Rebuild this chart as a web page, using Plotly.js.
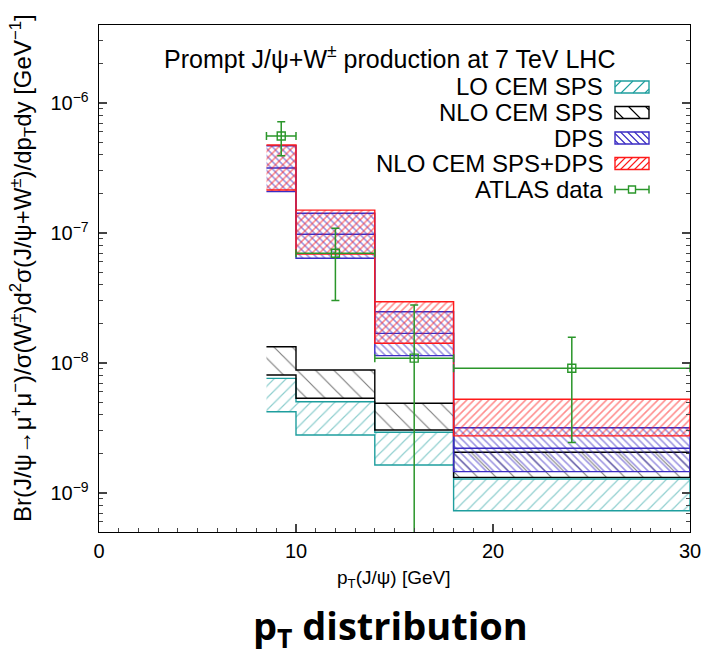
<!DOCTYPE html>
<html><head><meta charset="utf-8">
<script src="https://cdn.plot.ly/plotly-3.0.1.min.js"></script>
<style>html,body{margin:0;padding:0;background:#fff}</style>
</head><body><div id="chart" style="width:703px;height:655px"></div>
<script>
// ---- data ----
const binEdges = [8.5, 10, 14, 18, 30];
const loCemLow   = [4.22e-9, 2.79e-9, 1.64e-9, 7.31e-10];
const loCemHigh  = [7.62e-9, 5.04e-9, 2.93e-9, 1.28e-9];
const nloCemLow  = [8.08e-9, 5.35e-9, 3.05e-9, 1.32e-9];
const nloCemHigh = [1.335e-8, 8.83e-9, 4.90e-9, 2.06e-9];
const dpsLow     = [2.08e-7, 6.39e-8, 1.14e-8, 1.46e-9];
const dpsCentral = [3.16e-7, 9.77e-8, 1.69e-8, 2.21e-9];
const dpsHigh    = [4.69e-7, 1.42e-7, 2.48e-8, 3.18e-9];
const sumLow     = [2.14e-7, 6.90e-8, 1.42e-8, 2.75e-9];
const sumHigh    = [4.75e-7, 1.50e-7, 2.96e-8, 5.26e-9];
const atlasX        = [9.25, 12, 16, 24];
const atlasXErr     = [0.75, 2, 2, 6];
const atlasY        = [5.57e-7, 6.98e-8, 1.09e-8, 9.1e-9];
const atlasErrPlus  = [1.61e-7, 3.92e-8, 1.70e-8, 6.7e-9];
const atlasErrMinus = [1.64e-7, 3.95e-8, 1.70e-8, 6.65e-9];
const seriesNames = ['LO CEM SPS', 'NLO CEM SPS', 'DPS', 'NLO CEM SPS+DPS', 'ATLAS data'];
const xTickVals = [0, 10, 20, 30];
const yTickVals = [1e-9, 1e-8, 1e-7, 1e-6];
const yTickText = ['10<sup>\u22129</sup>', '10<sup>\u22128</sup>', '10<sup>\u22127</sup>', '10<sup>\u22126</sup>'];

// ---- styles ----
const TEAL = '#1e9e9e', BLACK = '#000000', BLUE = '#3b2cc4', RED = '#ff1a1a', GREEN = '#2a962a';
const FONT = 'Liberation Sans, Arial, Helvetica, sans-serif';

function stepBand(low, high) {
  const n = low.length;
  const xs = binEdges.concat(binEdges.slice().reverse());
  const ys = high.concat([high[n - 1]]).concat(low.slice().reverse().concat([low[0]]));
  return {x: xs, y: ys};
}
function band(name, low, high, color, shape, size, solidity) {
  const b = stepBand(low, high);
  return {
    type: 'scatter', mode: 'lines', name: name, x: b.x, y: b.y,
    fill: 'toself', fillcolor: 'rgba(0,0,0,0)',
    line: {color: color, width: 1.4, shape: 'hv', simplify: false},
    fillpattern: {shape: shape, fgcolor: color, bgcolor: 'rgba(0,0,0,0)', size: size, solidity: solidity, fillmode: 'overlay'},
    showlegend: false, hoverinfo: 'skip'
  };
}

const traces = [
  band(seriesNames[0], loCemLow, loCemHigh, TEAL, '/', 8.5, 0.14),
  band(seriesNames[1], nloCemLow, nloCemHigh, BLACK, '\\', 13, 0.09),
  band(seriesNames[2], dpsLow, dpsHigh, BLUE, '\\', 5.2, 0.3),
  {
    type: 'scatter', mode: 'lines', name: 'DPS central', x: binEdges,
    y: dpsCentral.concat([dpsCentral[dpsCentral.length - 1]]),
    line: {color: BLUE, width: 1.4, shape: 'hv'}, showlegend: false, hoverinfo: 'skip'
  },
  band(seriesNames[3], sumLow, sumHigh, RED, '/', 5.2, 0.3),
  {
    type: 'scatter', mode: 'markers', name: seriesNames[4], x: atlasX, y: atlasY,
    marker: {symbol: 'square-open', size: 8, color: GREEN, line: {width: 1.4, color: GREEN}},
    error_y: {type: 'data', symmetric: false, array: atlasErrPlus, arrayminus: atlasErrMinus, color: GREEN, thickness: 1.5, width: 4},
    error_x: {type: 'data', array: atlasXErr, color: GREEN, thickness: 1.5, width: 4},
    showlegend: false
  }
];

// ---- pixel helpers for decoration (legend, titles) ----
const PL = 99, PR = 690, PT = 25, PB = 532;
function px(x) { return (x - PL) / (PR - PL); }
function py(y) { return (PB - y) / (PB - PT); }

function hatch(x0, y0, x1, y1, spacing, dir) {
  const w = x1 - x0, h = y1 - y0;
  let d = '';
  if (dir === '/') {
    for (let c = -h + spacing / 2; c < w; c += spacing) {
      const ua = Math.max(0, c), ub = Math.min(w, c + h);
      if (ub <= ua) continue;
      d += 'M' + px(x0 + ua) + ',' + py(y1 - (ua - c)) + 'L' + px(x0 + ub) + ',' + py(y1 - (ub - c));
    }
  } else {
    for (let c = spacing / 2; c < w + h; c += spacing) {
      const ua = Math.max(0, c - h), ub = Math.min(w, c);
      if (ub <= ua) continue;
      d += 'M' + px(x0 + ua) + ',' + py(y1 - (c - ua)) + 'L' + px(x0 + ub) + ',' + py(y1 - (c - ub));
    }
  }
  return d;
}

const legendRows = [87, 112.5, 138, 163.5, 189.5];
const legendStyle = [
  {color: TEAL, dir: '/', sp: 12},
  {color: BLACK, dir: '\\', sp: 17},
  {color: BLUE, dir: '\\', sp: 7},
  {color: RED, dir: '/', sp: 7}
];
const shapes = [];
const annotations = [];
const SX0 = 615, SX1 = 649, TX = 605;
legendStyle.forEach(function (s, i) {
  const yc = legendRows[i];
  shapes.push({type: 'path', xref: 'paper', yref: 'paper', path: hatch(SX0, yc - 6, SX1, yc + 6, s.sp, s.dir), line: {color: s.color, width: 1.1}});
  shapes.push({type: 'rect', xref: 'paper', yref: 'paper', x0: px(SX0), x1: px(SX1), y0: py(yc + 6), y1: py(yc - 6), line: {color: s.color, width: 1.4}, fillcolor: 'rgba(0,0,0,0)'});
});
(function () {
  const yc = legendRows[4], xm = (SX0 + SX1) / 2;
  shapes.push({type: 'line', xref: 'paper', yref: 'paper', x0: px(SX0), x1: px(SX1), y0: py(yc), y1: py(yc), line: {color: GREEN, width: 1.5}});
  shapes.push({type: 'line', xref: 'paper', yref: 'paper', x0: px(SX0), x1: px(SX0), y0: py(yc - 4), y1: py(yc + 4), line: {color: GREEN, width: 1.5}});
  shapes.push({type: 'line', xref: 'paper', yref: 'paper', x0: px(SX1), x1: px(SX1), y0: py(yc - 4), y1: py(yc + 4), line: {color: GREEN, width: 1.5}});
  shapes.push({type: 'rect', xref: 'paper', yref: 'paper', x0: px(xm - 3.5), x1: px(xm + 3.5), y0: py(yc + 3.5), y1: py(yc - 3.5), line: {color: GREEN, width: 1.4}, fillcolor: '#ffffff'});
})();
seriesNames.forEach(function (t, i) {
  annotations.push({text: t, xref: 'paper', yref: 'paper', x: px(TX), y: py(legendRows[i]), xanchor: 'right', yanchor: 'middle', showarrow: false, font: {family: FONT, size: 24, color: '#000'}});
});
annotations.push({text: 'Prompt J/\u03c8+W<sup>\u00b1</sup> production at 7 TeV LHC', xref: 'paper', yref: 'paper', x: px(389), y: py(57), xanchor: 'center', yanchor: 'middle', showarrow: false, font: {family: FONT, size: 25, color: '#000'}});
annotations.push({text: 'p<sub>T</sub>(J/\u03c8) [GeV]', xref: 'paper', yref: 'paper', x: px(394), y: py(579), xanchor: 'center', yanchor: 'middle', showarrow: false, font: {family: FONT, size: 19, color: '#000'}});
annotations.push({text: 'Br(J/\u03c8\u2192\u03bc<sup>+</sup>\u03bc<sup>\u2212</sup>)/\u03c3(W<sup>\u00b1</sup>)d<sup>2</sup>\u03c3(J/\u03c8+W<sup>\u00b1</sup>)/dp<sub>T</sub>dy [GeV<sup>\u22121</sup>]', xref: 'paper', yref: 'paper', x: px(23), y: py(268), xanchor: 'center', yanchor: 'middle', textangle: -90, showarrow: false, font: {family: FONT, size: 24, color: '#000'}});
annotations.push({text: '<b>p<sub>T</sub> distribution</b>', xref: 'paper', yref: 'paper', x: px(390), y: py(627), xanchor: 'center', yanchor: 'middle', showarrow: false, font: {family: 'Open Sans, Noto Sans, sans-serif', size: 38, color: '#000'}});

const minorY = [];
[-10, -9, -8, -7, -6].forEach(function (e) { for (let m = 2; m <= 9; m++) minorY.push(m * Math.pow(10, e)); });

const layout = {
  width: 703, height: 655,
  margin: {l: PL, r: 703 - PR, t: PT, b: 655 - PB, pad: 0},
  paper_bgcolor: '#ffffff', plot_bgcolor: '#ffffff',
  showlegend: false,
  font: {family: FONT, size: 20, color: '#000'},
  xaxis: {
    range: [0, 30], tickmode: 'array', tickvals: xTickVals, ticks: 'inside', ticklen: 8, tickwidth: 1.2,
    showline: true, linecolor: '#000', linewidth: 1.4, mirror: true, showgrid: false, zeroline: false,
    tickfont: {family: FONT, size: 20}, ticklabelstandoff: 1,
    minor: {dtick: 1, ticks: 'inside', ticklen: 4, tickwidth: 1, showgrid: false}
  },
  yaxis: {
    type: 'log', range: [-9.3, -5.4], tickmode: 'array', tickvals: yTickVals, ticktext: yTickText,
    ticks: 'inside', ticklen: 8, tickwidth: 1.2, showline: true, linecolor: '#000', linewidth: 1.4,
    mirror: 'ticks', showgrid: false, zeroline: false, tickfont: {family: FONT, size: 20}, ticklabelstandoff: 5,
    minor: {tickmode: 'array', tickvals: minorY, ticks: 'inside', ticklen: 4, tickwidth: 1, showgrid: false}
  },
  shapes: shapes,
  annotations: annotations
};

Plotly.newPlot('chart', traces, layout, {displayModeBar: false, staticPlot: true});
</script>
</body></html>
